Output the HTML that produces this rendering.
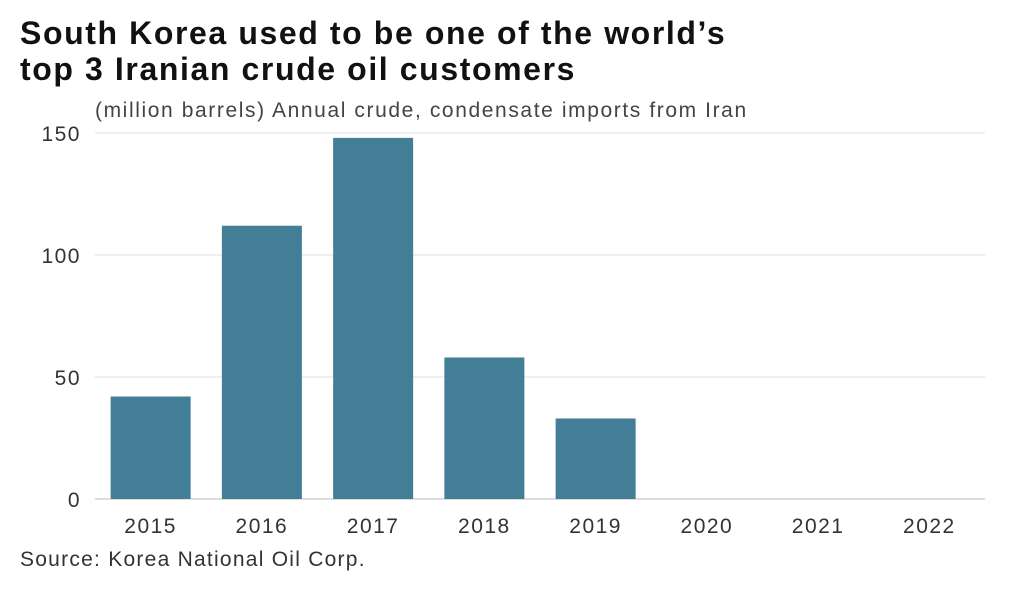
<!DOCTYPE html>
<html><head><meta charset="utf-8"><style>
body{margin:0;background:#fff;width:1016px;height:590px;overflow:hidden;font-family:"Liberation Sans",sans-serif;}
#title{position:absolute;left:20px;top:15px;font-size:32px;font-weight:bold;line-height:36px;color:#111;margin:0;letter-spacing:1.6px;white-space:nowrap;}
#sub{position:absolute;left:95px;top:99px;font-size:21px;color:#444;letter-spacing:1.6px;white-space:nowrap;}
#src{position:absolute;left:20px;top:548px;font-size:21px;color:#333;letter-spacing:1.25px;white-space:nowrap;}
svg{position:absolute;left:0;top:0;}
</style></head><body>
<h1 id="title">South Korea used to be one of the world’s<br>top 3 Iranian crude oil customers</h1>
<div id="sub">(million barrels) Annual crude, condensate imports from Iran</div>
<div id="src">Source: Korea National Oil Corp.</div>
<svg id="chart" width="1016" height="590"></svg>
<script>
const categories=["2015","2016","2017","2018","2019","2020","2021","2022"];
const values=[42,112,148,58,33,0,0,0];
const yTicks=[0,50,100,150];
const svg=document.getElementById('chart');
const NS='http://www.w3.org/2000/svg';
const x0=95,x1=985,yBase=499,yTop=133,yMax=150;
const band=(x1-x0)/categories.length;
function y(v){return yBase-(v/yMax)*(yBase-yTop);}
function xc(i){return x0+band*i+band/2;}
yTicks.forEach(t=>{
  const l=document.createElementNS(NS,'line');
  l.setAttribute('x1',x0);l.setAttribute('x2',x1);l.setAttribute('y1',y(t));l.setAttribute('y2',y(t));
  l.setAttribute('stroke',t===0?'#bbb':'#ddd');l.setAttribute('stroke-width','1');
  
  
  svg.appendChild(l);
  const tx=document.createElementNS(NS,'text');
  tx.setAttribute('x',81);tx.setAttribute('y',y(t)+8);tx.setAttribute('text-anchor','end');
  tx.setAttribute('font-size','21');tx.setAttribute('letter-spacing','1.5');tx.setAttribute('fill','#333');tx.setAttribute('font-family','Liberation Sans, sans-serif');
  tx.textContent=t;
  
  
  svg.appendChild(tx);
});
categories.forEach((c,i)=>{
  const v=values[i];
  if(v>0){
    const r=document.createElementNS(NS,'rect');
    r.setAttribute('x',xc(i)-40);r.setAttribute('width',80);
    r.setAttribute('y',y(v));r.setAttribute('height',yBase-y(v));
    r.setAttribute('fill','#427f96');
    
    
    svg.appendChild(r);
  }
  const tx=document.createElementNS(NS,'text');
  tx.setAttribute('x',xc(i));tx.setAttribute('y',533);tx.setAttribute('text-anchor','middle');
  tx.setAttribute('font-size','21');tx.setAttribute('letter-spacing','1.5');tx.setAttribute('fill','#333');tx.setAttribute('font-family','Liberation Sans, sans-serif');
  tx.textContent=c;
  
  
  svg.appendChild(tx);
});
</script>
</body></html>
